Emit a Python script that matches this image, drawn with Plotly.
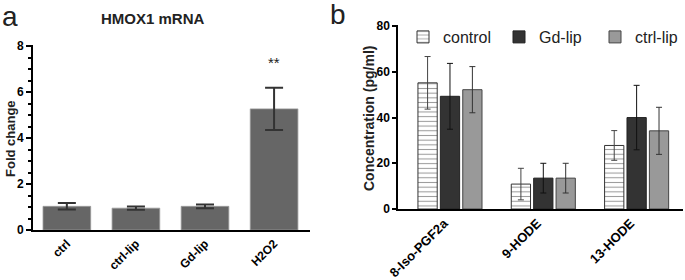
import plotly.graph_objects as go

# Panel a data
a_categories = ["ctrl", "ctrl-lip", "Gd-lip", "H2O2"]
a_values = [1.03, 0.95, 1.03, 5.27]
a_errors = [0.14, 0.07, 0.08, 0.92]
a_signif = "**"
a_signif_y = 7.3

# Panel b data
b_categories = ["8-Iso-PGF2a", "9-HODE", "13-HODE"]
b_control = [55.2, 10.9, 27.8]
b_control_err = [11.5, 6.9, 6.5]
b_gdlip = [49.3, 13.5, 40.0]
b_gdlip_err = [14.4, 6.5, 14.1]
b_ctrllip = [52.2, 13.5, 34.2]
b_ctrllip_err = [10.1, 6.5, 10.3]

W, H = 685, 280
FONT = "Arial, Liberation Sans, sans-serif"

def px_x(p):
    return p / W

def px_y(p):
    return 1 - p / H

fig = go.Figure()

fig.add_trace(go.Bar(
    x=a_categories, y=a_values,
    error_y=dict(type="data", array=a_errors, color="#333333", thickness=2, width=9),
    marker=dict(color="#666666", line=dict(color="#9a9a9a", width=0.8)),
    width=0.69, showlegend=False, xaxis="x", yaxis="y",
))

fig.add_trace(go.Bar(
    name="control", x=b_categories, y=b_control,
    error_y=dict(type="data", array=b_control_err, color="#444444", thickness=1, width=3),
    marker=dict(color="white", line=dict(color="#333333", width=1),
                pattern=dict(shape="-", size=4.7, solidity=0.22, fgcolor="#333333", bgcolor="white")),
    xaxis="x2", yaxis="y2", offsetgroup="c",
))
fig.add_trace(go.Bar(
    name="Gd-lip", x=b_categories, y=b_gdlip,
    error_y=dict(type="data", array=b_gdlip_err, color="#111111", thickness=1, width=3),
    marker=dict(color="#333333", line=dict(color="#222222", width=1)),
    xaxis="x2", yaxis="y2", offsetgroup="g",
))
fig.add_trace(go.Bar(
    name="ctrl-lip", x=b_categories, y=b_ctrllip,
    error_y=dict(type="data", array=b_ctrllip_err, color="#333333", thickness=1, width=3),
    marker=dict(color="#999999", line=dict(color="#444444", width=1)),
    xaxis="x2", yaxis="y2", offsetgroup="l",
))

tickfont_a = dict(family=FONT, size=12, color="black", weight="bold")
tickfont_bx = dict(family=FONT, size=13, color="black", weight="bold")
tickfont_by = dict(family=FONT, size=12, color="black", weight="bold")

fig.update_layout(
    width=W, height=H,
    margin=dict(l=0, r=0, t=0, b=0, autoexpand=False),
    paper_bgcolor="white", plot_bgcolor="white",
    barmode="group", bargap=0.28, bargroupgap=0.14,
    font=dict(family=FONT, color="black"),
    xaxis=dict(domain=[px_x(33), px_x(310)], anchor="y", range=[-0.49, 3.52], automargin=False,
               showline=True, linecolor="black", linewidth=2, ticks="",
               tickangle=-45, tickfont=tickfont_a, showgrid=False, zeroline=False),
    yaxis=dict(domain=[px_y(230), px_y(45)], anchor="x", range=[0, 8.05], automargin=False,
               tickvals=[0, 2, 4, 6, 8],
               showline=True, linecolor="black", linewidth=2, ticks="outside",
               ticklen=5, tickwidth=2, tickcolor="black",
               minor=dict(dtick=0.5, ticks="outside", ticklen=3, tickwidth=1.5, tickcolor="black"),
               tickfont=tickfont_a, showgrid=False, zeroline=False),
    xaxis2=dict(domain=[px_x(398), px_x(683)], anchor="y2", range=[-0.557, 2.497], automargin=False,
                showline=True, linecolor="black", linewidth=1.5, ticks="",
                tickangle=-45, tickfont=tickfont_bx, showgrid=False, zeroline=False,
                ticklabelshift=-6),
    yaxis2=dict(domain=[px_y(209), px_y(25)], anchor="x2", range=[0, 80.5], automargin=False,
                tickvals=[0, 20, 40, 60, 80],
                showline=True, linecolor="black", linewidth=1.5, ticks="outside",
                ticklen=4, tickwidth=1.5, tickcolor="black",
                tickfont=tickfont_by, showgrid=False, zeroline=False),
    legend=dict(orientation="h", x=px_x(403), xanchor="left", y=px_y(37), yanchor="middle",
                font=dict(family=FONT, size=16, color="#222"), entrywidth=51,
                bgcolor="rgba(0,0,0,0)", traceorder="normal"),
    annotations=[
        dict(text="HMOX1 mRNA", x=px_x(153), y=px_y(18), xref="paper", yref="paper",
             xanchor="center", yanchor="middle",
             showarrow=False, font=dict(family=FONT, size=15, color="#222", weight="bold")),
        dict(text="Fold change", x=px_x(10), y=px_y(139), xref="paper", yref="paper",
             xanchor="center", yanchor="middle", textangle=-90,
             showarrow=False, font=dict(family=FONT, size=13, color="#222", weight="bold")),
        dict(text="Concentration (pg/ml)", x=px_x(369), y=px_y(119), xref="paper", yref="paper",
             xanchor="center", yanchor="middle", textangle=-90,
             showarrow=False, font=dict(family=FONT, size=14, color="#222", weight="bold")),
        dict(text="a", x=px_x(10), y=px_y(16), xref="paper", yref="paper",
             xanchor="center", yanchor="middle", height=26,
             showarrow=False, font=dict(family=FONT, size=28, color="#222")),
        dict(text="b", x=px_x(338), y=px_y(14), xref="paper", yref="paper",
             xanchor="center", yanchor="middle", height=26,
             showarrow=False, font=dict(family=FONT, size=28, color="#222")),
        dict(text=a_signif, x=a_categories[3], y=a_signif_y, xref="x", yref="y",
             xanchor="center", yanchor="middle",
             showarrow=False, font=dict(family=FONT, size=15, color="#222")),
    ],
)

fig.write_html("out.html", config={"displayModeBar": False},
               post_script="document.body.style.margin='0';document.body.style.overflow='hidden';")
